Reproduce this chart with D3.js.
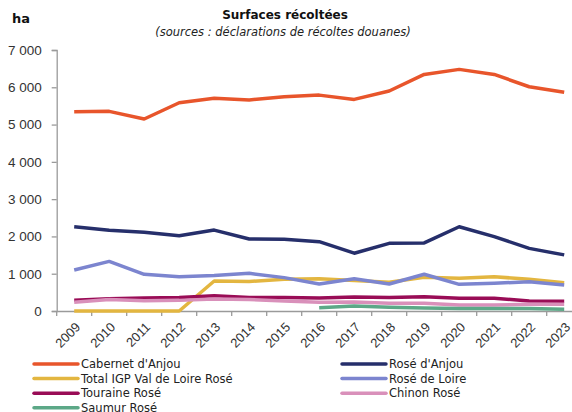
<!DOCTYPE html>
<html>
<head>
<meta charset="utf-8">
<script src="https://cdn.jsdelivr.net/npm/d3@7"></script>
<style>
  body { margin: 0; background: #fff; }
  svg { font-family: "DejaVu Sans", sans-serif; display: block; }
</style>
</head>
<body>
<script>
// values (ha)
let years = ["2009","2010","2011","2012","2013","2014","2015","2016","2017","2018","2019","2020","2021","2022","2023"];
let cabernetAnjou = [5345, 5355, 5150, 5585, 5705, 5660, 5745, 5790, 5675, 5900, 6345, 6480, 6345, 6015, 5865];
let roseAnjou = [2260, 2165, 2110, 2020, 2170, 1930, 1925, 1860, 1550, 1815, 1825, 2260, 1995, 1680, 1505];
let igpValLoire = [0, 0, 0, 0, 805, 790, 850, 865, 815, 770, 905, 880, 920, 850, 760];
let roseLoire = [1100, 1330, 985, 920, 950, 1010, 895, 725, 865, 725, 985, 715, 745, 785, 700];
let touraine = [290, 330, 350, 365, 410, 365, 365, 350, 375, 365, 385, 340, 340, 270, 260];
let chinon = [235, 310, 275, 285, 320, 310, 270, 235, 240, 205, 205, 160, 160, 180, 180];
let saumur = [null, null, null, null, null, null, null, 90, 135, 100, 80, 70, 70, 70, 45];
let yTicks = [0, 1000, 2000, 3000, 4000, 5000, 6000, 7000];

let series = [
  {name: "Cabernet d'Anjou", values: cabernetAnjou, color: "#e8552b"},
  {name: "Rosé d'Anjou", values: roseAnjou, color: "#262f6b"},
  {name: "Total IGP Val de Loire Rosé", values: igpValLoire, color: "#e3b640"},
  {name: "Rosé de Loire", values: roseLoire, color: "#7c85cf"},
  {name: "Touraine Rosé", values: touraine, color: "#990c56"},
  {name: "Chinon Rosé", values: chinon, color: "#d990ba"},
  {name: "Saumur Rosé", values: saumur, color: "#5ca887"}
];

let width = 572, height = 412;
let margin = {left: 56.7, top: 50, bottom: 101};
let step = 35;

let svg = d3.select("body").append("svg")
    .attr("width", width)
    .attr("height", height);

// band scale runs past the right edge, the reference is clipped there
let x = d3.scaleBand().domain(years).range([margin.left, margin.left + step * years.length]);
let y = d3.scaleLinear().domain([0, 7000]).range([height - margin.bottom, margin.top]);

let fmt = d => d3.format(",")(d).replace(",", " ");

  // y axis
let yAxis = svg.append("g")
    .attr("transform", "translate(" + margin.left + ",0)")
    .call(d3.axisLeft(y).tickValues(yTicks).tickSize(5).tickPadding(10).tickFormat(fmt));
yAxis.select(".domain").attr("stroke", "#9a9a9a").attr("stroke-width", 1.3);
yAxis.selectAll(".tick line").attr("stroke", "#9a9a9a").attr("stroke-width", 1.3);
yAxis.selectAll("text").style("font-size", "13.5px").attr("fill", "#333");

  // x axis
let xAxis = svg.append("g")
    .attr("transform", "translate(0," + y(0) + ")")
    .call(d3.axisBottom(x).tickSize(0).tickFormat(d => d));
xAxis.select(".domain").attr("stroke", "#9a9a9a").attr("stroke-width", 1.3);
xAxis.selectAll("text")
    .style("font-size", "13px")
    .attr("fill", "#333")
    .style("text-anchor", "end")
    .attr("x", 0)
    .attr("y", 0)
    .attr("dy", 0)
    .attr("transform", "translate(7,17) rotate(-45)");

// tick marks between categories
svg.append("g").selectAll("line")
    .data(d3.range(years.length + 1))
    .enter().append("line")
    .attr("x1", i => margin.left + step * i)
    .attr("x2", i => margin.left + step * i)
    .attr("y1", y(0))
    .attr("y2", y(0) + 5)
    .attr("stroke", "#9a9a9a")
    .attr("stroke-width", 1.3);

let line = d3.line()
    .defined(d => d != null)
    .x((d, i) => x(years[i]) + x.bandwidth() / 2)
    .y(d => y(d));

svg.append("g").selectAll("path")
    .data(series)
    .enter().append("path")
    .attr("d", d => line(d.values))
    .attr("fill", "none")
    .attr("stroke", d => d.color)
    .attr("stroke-width", 3.5)
    .attr("stroke-linejoin", "round");

  // title
svg.append("text")
    .attr("x", 285)
    .attr("y", 19)
    .attr("text-anchor", "middle")
    .style("font-size", "12px")
    .style("font-weight", "bold")
    .attr("fill", "#111")
    .text("Surfaces récoltées");

svg.append("text")
    .attr("x", 283)
    .attr("y", 36)
    .attr("text-anchor", "middle")
    .style("font-size", "11.5px")
    .style("font-style", "italic")
    .attr("fill", "#222")
    .text("(sources : déclarations de récoltes douanes)");

svg.append("text")
    .attr("x", 12)
    .attr("y", 23)
    .style("font-size", "13px")
    .style("font-weight", "bold")
    .attr("fill", "#111")
    .text("ha");

  // legend, two columns
let legend = svg.append("g").selectAll("g")
    .data(series)
    .enter().append("g")
    .attr("transform", (d, i) => "translate(" + (i % 2 ? 342 : 34) + "," + (364 + Math.floor(i / 2) * 14.6) + ")");

legend.append("line")
    .attr("x1", 0).attr("x2", 44)
    .attr("stroke", d => d.color)
    .attr("stroke-width", 3.5)
    .attr("stroke-linecap", "round");

legend.append("text")
    .attr("x", 47)
    .attr("dy", "0.36em")
    .style("font-size", "11.5px")
    .attr("fill", "#222")
    .text(d => d.name);
</script>
</body>
</html>
